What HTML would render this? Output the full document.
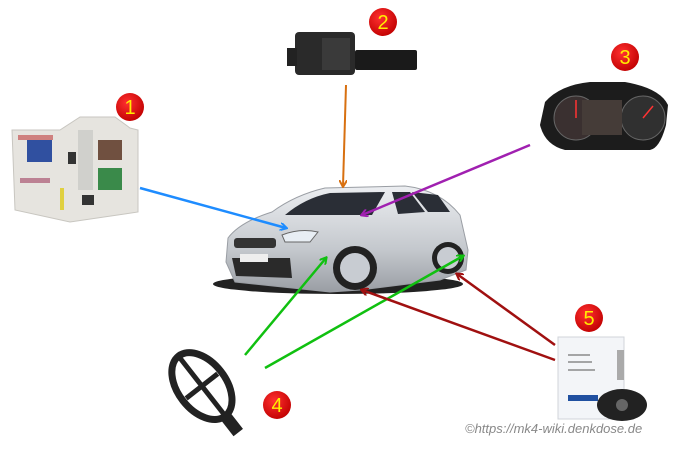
<!DOCTYPE html>
<html><head><style>
body{margin:0;background:#fff;width:700px;height:455px;overflow:hidden;font-family:"Liberation Sans",sans-serif}
</style></head><body>
<svg width="700" height="455" xmlns="http://www.w3.org/2000/svg">
<defs>
<linearGradient id="car" x1="0" y1="0" x2="0" y2="1"><stop offset="0" stop-color="#eceef1"/><stop offset="0.6" stop-color="#c4c8cd"/><stop offset="1" stop-color="#9a9ea4"/></linearGradient>
<radialGradient id="badge" cx="0.4" cy="0.35" r="0.7"><stop offset="0" stop-color="#ff3030"/><stop offset="1" stop-color="#c00000"/></radialGradient>
<marker id="mb" markerWidth="8" markerHeight="8" refX="6" refY="4" orient="auto" markerUnits="userSpaceOnUse"><path d="M0,0 L7,4 L0,8" fill="none" stroke="#1e8cff" stroke-width="2"/></marker>
<marker id="mo" markerWidth="8" markerHeight="8" refX="6" refY="4" orient="auto" markerUnits="userSpaceOnUse"><path d="M0,0 L7,4 L0,8" fill="none" stroke="#d87010" stroke-width="2"/></marker>
<marker id="mp" markerWidth="8" markerHeight="8" refX="6" refY="4" orient="auto" markerUnits="userSpaceOnUse"><path d="M0,0 L7,4 L0,8" fill="none" stroke="#a020b0" stroke-width="2"/></marker>
<marker id="mg" markerWidth="8" markerHeight="8" refX="6" refY="4" orient="auto" markerUnits="userSpaceOnUse"><path d="M0,0 L7,4 L0,8" fill="none" stroke="#10c010" stroke-width="2"/></marker>
<marker id="mr" markerWidth="8" markerHeight="8" refX="6" refY="4" orient="auto" markerUnits="userSpaceOnUse"><path d="M0,0 L7,4 L0,8" fill="none" stroke="#a01010" stroke-width="2"/></marker>
</defs>

<!-- fuse box 1 -->
<path d="M60,130 L80,117 L115,117 L130,128 L138,130 L138,212 L70,222 L15,210 L12,130 Z" fill="#e6e4df" stroke="#c8c6c0"/>
<rect x="27" y="140" width="25" height="22" fill="#3050a0"/>
<rect x="98" y="140" width="24" height="20" fill="#705040"/>
<rect x="98" y="168" width="24" height="22" fill="#3a8a4a"/>
<rect x="78" y="130" width="15" height="60" fill="#d0d0cc"/>
<rect x="68" y="152" width="8" height="12" fill="#333"/>
<rect x="82" y="195" width="12" height="10" fill="#333"/>
<rect x="60" y="188" width="4" height="22" fill="#e0d040"/>
<rect x="18" y="135" width="35" height="5" fill="#c04040" opacity=".6"/>
<rect x="20" y="178" width="30" height="5" fill="#a04060" opacity=".6"/>

<!-- module 2 -->
<rect x="295" y="32" width="60" height="43" rx="4" fill="#2a2a2a"/>
<rect x="287" y="48" width="10" height="18" fill="#222"/>
<rect x="355" y="50" width="62" height="20" rx="2" fill="#1a1a1a"/>
<rect x="322" y="38" width="28" height="32" fill="#3a3a3a"/>

<!-- cluster 3 -->
<path d="M545,102 Q560,85 590,82 L625,82 Q660,88 668,105 L666,125 Q660,148 650,150 L565,150 Q545,145 540,125 Z" fill="#1c1c1c"/>
<circle cx="576" cy="118" r="22" fill="#3a3030" stroke="#666"/>
<circle cx="643" cy="118" r="22" fill="#303030" stroke="#666"/>
<rect x="582" y="100" width="40" height="35" fill="#453c38"/>
<line x1="576" y1="118" x2="576" y2="100" stroke="#f33" stroke-width="1.5"/>
<line x1="643" y1="118" x2="653" y2="106" stroke="#f33" stroke-width="1.5"/>

<!-- sensor 4 -->
<g transform="rotate(-38 205 390)">
<ellipse cx="205" cy="385" rx="24" ry="38" fill="none" stroke="#222" stroke-width="7"/>
<line x1="185" y1="385" x2="225" y2="385" stroke="#222" stroke-width="5"/>
<line x1="205" y1="350" x2="205" y2="420" stroke="#222" stroke-width="5"/>
<rect x="199" y="422" width="12" height="22" fill="#222"/>
</g>

<!-- TPMS 5 -->
<rect x="558" y="337" width="66" height="82" fill="#f3f5f8" stroke="#d0d4da"/>
<rect x="568" y="395" width="30" height="6" fill="#2050a0"/>
<line x1="568" y1="355" x2="590" y2="355" stroke="#555" stroke-width="1"/>
<line x1="568" y1="362" x2="592" y2="362" stroke="#555" stroke-width="1"/>
<line x1="568" y1="370" x2="595" y2="370" stroke="#555" stroke-width="1"/>
<rect x="617" y="350" width="7" height="30" fill="#aaa"/>
<ellipse cx="622" cy="405" rx="25" ry="16" fill="#222"/>
<circle cx="622" cy="405" r="6" fill="#666"/>

<!-- car -->
<ellipse cx="338" cy="284" rx="125" ry="10" fill="#222"/>
<path d="M228,238 Q240,222 272,212 Q295,195 325,188 L405,186 Q440,190 460,215 L468,250 L466,270 L440,280 L360,290 L330,292 L235,282 L226,262 Z" fill="url(#car)" stroke="#9a9ea4"/>
<path d="M285,215 Q305,198 330,193 L385,192 L372,215 Z" fill="#2a2e36"/>
<path d="M392,192 L410,192 L425,212 L398,214 Z" fill="#2a2e36"/>
<path d="M412,192 L438,195 L450,212 L428,212 Z" fill="#2a2e36"/>
<rect x="234" y="238" width="42" height="10" rx="3" fill="#333"/>
<path d="M232,258 L290,258 L292,278 L236,276 Z" fill="#2a2a2a"/>
<rect x="240" y="254" width="28" height="8" fill="#eee"/>
<path d="M282,235 Q300,228 318,232 L310,242 L285,242 Z" fill="#e8eef4" stroke="#666"/>
<circle cx="355" cy="268" r="22" fill="#222"/><circle cx="355" cy="268" r="15" fill="#c8ccd2"/>
<circle cx="448" cy="258" r="16" fill="#222"/><circle cx="448" cy="258" r="11" fill="#c8ccd2"/>

<!-- arrows -->
<line x1="140" y1="188" x2="286" y2="228" stroke="#1e8cff" stroke-width="2.5" marker-end="url(#mb)"/>
<line x1="346" y1="85" x2="343" y2="186" stroke="#d87010" stroke-width="2" marker-end="url(#mo)"/>
<line x1="530" y1="145" x2="362" y2="215" stroke="#a020b0" stroke-width="2.5" marker-end="url(#mp)"/>
<line x1="245" y1="355" x2="326" y2="258" stroke="#10c010" stroke-width="2.5" marker-end="url(#mg)"/>
<line x1="265" y1="368" x2="463" y2="256" stroke="#10c010" stroke-width="2.5" marker-end="url(#mg)"/>
<line x1="555" y1="360" x2="362" y2="290" stroke="#a01010" stroke-width="2.5" marker-end="url(#mr)"/>
<line x1="555" y1="345" x2="457" y2="274" stroke="#a01010" stroke-width="2.5" marker-end="url(#mr)"/>

<!-- badges -->
<g font-family="Liberation Sans, sans-serif" font-size="20" fill="#ffee00" text-anchor="middle">
<circle cx="130" cy="107" r="14" fill="url(#badge)"/><text x="130" y="114">1</text>
<circle cx="383" cy="22" r="14" fill="url(#badge)"/><text x="383" y="29">2</text>
<circle cx="625" cy="57" r="14" fill="url(#badge)"/><text x="625" y="64">3</text>
<circle cx="277" cy="405" r="14" fill="url(#badge)"/><text x="277" y="412">4</text>
<circle cx="589" cy="318" r="14" fill="url(#badge)"/><text x="589" y="325">5</text>
</g>
<text x="465" y="433" font-family="Liberation Sans, sans-serif" font-style="italic" font-size="13" fill="#888">©https://mk4-wiki.denkdose.de</text>
</svg>
</body></html>
